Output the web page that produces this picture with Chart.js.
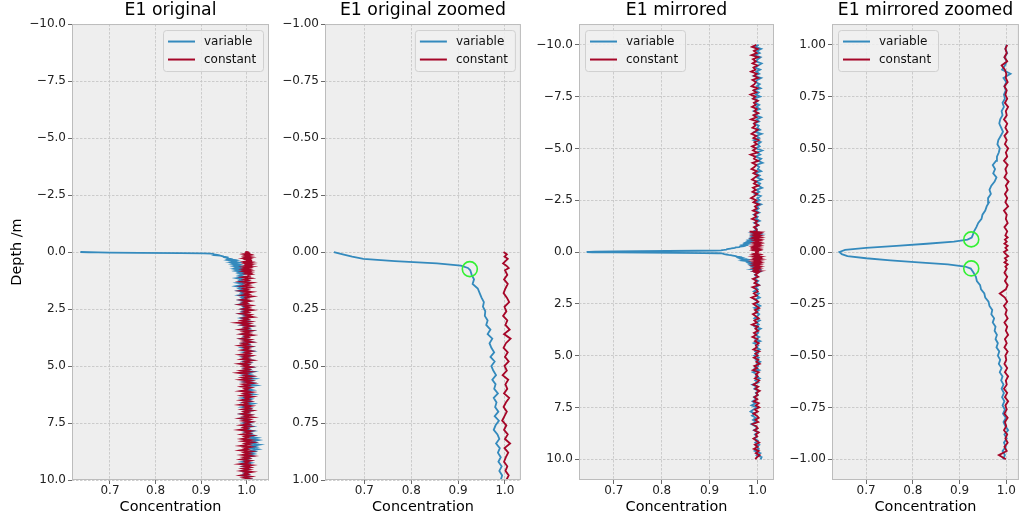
<!DOCTYPE html>
<html>
<head>
<meta charset="utf-8">
<script src="https://cdn.jsdelivr.net/npm/chart.js@4.4.0/dist/chart.umd.min.js"></script>
<style>
  body { margin: 0; background: #fff; }
  #wrap { position: relative; width: 1028px; height: 525px; overflow: hidden; }
  canvas { position: absolute; top: 0; }
</style>
</head>
<body>
<div id="wrap">
  <canvas id="c1" width="280" height="525" style="left:0px"></canvas>
  <canvas id="c2" width="250" height="525" style="left:280px"></canvas>
  <canvas id="c3" width="250" height="525" style="left:530px"></canvas>
  <canvas id="c4" width="248" height="525" style="left:780px"></canvas>
</div>
<script>
// depth profiles (depth in m, concentration unitless)
const origDepth = [
  0, 0.01, 0.02, 0.03, 0.04, 0.05, 0.06, 0.07, 0.08, 0.1,
  0.12, 0.14, 0.16, 0.18, 0.2, 0.22, 0.24, 0.26, 0.28, 0.3,
  0.32, 0.34, 0.36, 0.38, 0.4, 0.42, 0.44, 0.46, 0.48, 0.5,
  0.52, 0.54, 0.56, 0.58, 0.6, 0.62, 0.64, 0.66, 0.68, 0.7,
  0.72, 0.74, 0.76, 0.78, 0.8, 0.82, 0.84, 0.86, 0.88, 0.9,
  0.92, 0.94, 0.96, 0.98, 1.0,
  1.05, 1.1, 1.15, 1.2, 1.25, 1.3, 1.35, 1.4, 1.45, 1.5,
  1.55, 1.6, 1.65, 1.7, 1.75, 1.8, 1.85, 1.9, 1.95, 2,
  2.05, 2.1, 2.15, 2.2, 2.25, 2.3, 2.35, 2.4, 2.45, 2.5,
  2.55, 2.6, 2.65, 2.7, 2.75, 2.8, 2.85, 2.9, 2.95, 3,
  3.05, 3.1, 3.15, 3.2, 3.25, 3.3, 3.35, 3.4, 3.45, 3.5,
  3.55, 3.6, 3.65, 3.7, 3.75, 3.8, 3.85, 3.9, 3.95, 4,
  4.05, 4.1, 4.15, 4.2, 4.25, 4.3, 4.35, 4.4, 4.45, 4.5,
  4.55, 4.6, 4.65, 4.7, 4.75, 4.8, 4.85, 4.9, 4.95, 5,
  5.05, 5.1, 5.15, 5.2, 5.25, 5.3, 5.35, 5.4, 5.45, 5.5,
  5.55, 5.6, 5.65, 5.7, 5.75, 5.8, 5.85, 5.9, 5.95, 6,
  6.05, 6.1, 6.15, 6.2, 6.25, 6.3, 6.35, 6.4, 6.45, 6.5,
  6.55, 6.6, 6.65, 6.7, 6.75, 6.8, 6.85, 6.9, 6.95, 7,
  7.05, 7.1, 7.15, 7.2, 7.25, 7.3, 7.35, 7.4, 7.45, 7.5,
  7.55, 7.6, 7.65, 7.7, 7.75, 7.8, 7.85, 7.9, 7.95, 8,
  8.05, 8.1, 8.15, 8.2, 8.25, 8.3, 8.35, 8.4, 8.45, 8.5,
  8.55, 8.6, 8.65, 8.7, 8.75, 8.8, 8.85, 8.9, 8.95, 9,
  9.05, 9.1, 9.15, 9.2, 9.25, 9.3, 9.35, 9.4, 9.45, 9.5,
  9.55, 9.6, 9.65, 9.7, 9.75, 9.8, 9.85, 9.9, 9.95, 10
];
const origVariable = [
  0.635, 0.654, 0.674, 0.698, 0.765, 0.855, 0.906, 0.921, 0.926, 0.929,
  0.934, 0.931, 0.942, 0.946, 0.950, 0.955, 0.953, 0.958, 0.957, 0.963,
  0.960, 0.969, 0.963, 0.973, 0.967, 0.971, 0.977, 0.969, 0.978, 0.971,
  0.975, 0.981, 0.973, 0.980, 0.977, 0.985, 0.976, 0.982, 0.979, 0.986,
  0.978, 0.987, 0.980, 0.976, 0.984, 0.988, 0.981, 0.989, 0.985, 0.991,
  0.986, 0.993, 0.988, 0.994, 0.991,
  0.983, 0.994, 0.978, 0.990, 0.985, 0.997, 0.980, 0.992, 0.987, 0.976,
  0.991, 0.984, 0.996, 0.982, 0.993, 0.988, 0.998, 0.983, 0.995, 0.989,
  0.997, 0.986, 1.002, 0.991, 0.999, 0.985, 1.004, 0.993, 0.998, 0.990,
  1.005, 0.992, 1.001, 0.987, 1.003, 0.995, 1.006, 0.989, 1.000, 0.994,
  1.007, 0.993, 1.002, 0.990, 1.009, 0.996, 1.004, 0.991, 1.011, 0.998,
  1.003, 0.992, 1.008, 0.995, 1.001, 0.989, 1.006, 0.997, 1.010, 0.993,
  1.004, 0.996, 1.009, 0.991, 1.002, 0.998, 1.012, 0.994, 1.005, 0.999,
  1.008, 0.992, 1.003, 0.997, 1.010, 0.995, 1.006, 0.990, 1.004, 0.999,
  1.011, 0.996, 1.005, 0.993, 1.014, 1.000, 1.008, 0.994, 1.012, 1.002,
  1.017, 0.998, 1.009, 0.995, 1.013, 1.003, 1.019, 0.997, 1.007, 1.001,
  1.012, 0.994, 1.008, 1.000, 1.015, 0.996, 1.006, 0.992, 1.010, 1.003,
  1.009, 0.995, 1.013, 0.999, 1.004, 0.991, 1.008, 1.001, 1.011, 0.996,
  1.003, 0.990, 1.007, 0.996, 1.001, 0.988, 1.005, 0.998, 1.009, 0.994,
  1.006, 0.999, 1.012, 0.995, 1.004, 1.001, 1.014, 0.998, 1.010, 1.005,
  1.016, 1.004, 1.022, 1.009, 1.025, 1.012, 1.019, 1.006, 1.027, 1.013,
  1.021, 1.008, 1.024, 1.011, 1.018, 1.005, 1.015, 1.002, 1.012, 1.000,
  1.006, 0.994, 1.003, 0.991, 1.008, 0.997, 1.004, 0.993, 1.007, 0.999,
  1.002, 0.992, 1.006, 0.996, 1.003, 0.990, 1.005, 0.998, 1.008, 1.001
];
const origConstant = [
  0.997, 1.004, 0.999, 1.006, 1.001, 0.996, 1.003, 1.008, 1.000, 1.005,
  0.998, 1.006, 1.001, 0.997, 1.004, 1.009, 0.999, 1.003, 0.996, 1.005,
  1.001, 1.010, 0.998, 1.012, 1.002, 0.997, 1.006, 1.000, 1.008, 0.999,
  1.004, 0.995, 1.007, 1.001, 1.005, 0.998, 1.009, 1.002, 0.997, 1.004,
  0.999, 0.994, 1.003, 0.998, 1.006, 1.000, 1.011, 0.999, 1.007, 1.002,
  0.998, 1.005, 1.001, 1.008, 1.003,
  1.006, 0.992, 1.009, 0.995, 1.003, 0.988, 1.011, 0.997, 1.005, 0.990,
  1.008, 0.994, 1.002, 0.987, 1.010, 0.996, 1.004, 0.991, 1.012, 0.998,
  1.003, 0.989, 1.007, 0.993, 1.000, 0.986, 1.009, 0.997, 1.005, 0.992,
  1.011, 0.995, 1.003, 0.988, 1.008, 0.999, 1.013, 0.993, 1.002, 0.990,
  1.006, 0.981, 1.004, 0.992, 1.010, 0.996, 1.002, 0.987, 1.009, 0.994,
  1.005, 0.990, 1.012, 0.997, 1.003, 0.989, 1.007, 0.995, 1.011, 0.992,
  1.001, 0.986, 1.008, 0.996, 1.004, 0.991, 1.010, 0.998, 1.006, 0.988,
  1.009, 0.994, 1.003, 0.990, 1.012, 0.997, 1.005, 0.985, 1.002, 0.993,
  1.010, 0.996, 1.004, 0.989, 1.007, 0.983, 1.001, 0.995, 1.011, 0.992,
  1.006, 0.988, 1.009, 0.997, 1.013, 0.993, 1.003, 0.990, 1.008, 0.996,
  1.002, 0.987, 1.010, 0.995, 1.005, 0.991, 1.012, 0.998, 1.004, 0.989,
  1.007, 0.994, 1.001, 0.986, 1.009, 0.997, 1.006, 0.992, 1.011, 0.995,
  1.003, 0.990, 1.008, 0.996, 1.012, 0.988, 1.005, 0.993, 1.010, 0.997,
  1.004, 0.989, 1.007, 0.994, 1.001, 0.985, 1.009, 0.998, 1.006, 0.991,
  1.011, 0.996, 1.003, 0.990, 1.008, 0.993, 1.013, 0.997, 1.005, 0.988,
  1.009, 0.995, 1.002, 0.987, 1.010, 0.996, 1.006, 0.991, 1.012, 0.994,
  1.004, 0.989, 1.008, 0.997, 1.003, 0.986, 1.010, 0.995, 1.007, 0.992,
  1.005, 0.990, 1.011, 0.996, 1.002, 0.988, 1.008, 0.994, 1.006, 0.997
];

const mirrorDepth = [
  -10, -9.9, -9.8, -9.7, -9.6, -9.5, -9.4, -9.3, -9.2, -9.1,
  -9, -8.9, -8.8, -8.7, -8.6, -8.5, -8.4, -8.3, -8.2, -8.1,
  -8, -7.9, -7.8, -7.7, -7.6, -7.5, -7.4, -7.3, -7.2, -7.1,
  -7, -6.9, -6.8, -6.7, -6.6, -6.5, -6.4, -6.3, -6.2, -6.1,
  -6, -5.9, -5.8, -5.7, -5.6, -5.5, -5.4, -5.3, -5.2, -5.1,
  -5, -4.9, -4.8, -4.7, -4.6, -4.5, -4.4, -4.3, -4.2, -4.1,
  -4, -3.9, -3.8, -3.7, -3.6, -3.5, -3.4, -3.3, -3.2, -3.1,
  -3, -2.9, -2.8, -2.7, -2.6, -2.5, -2.4, -2.3, -2.2, -2.1,
  -2, -1.9, -1.8, -1.7, -1.6, -1.5, -1.4, -1.3, -1.2, -1.1,
  -1, -0.98, -0.96, -0.94, -0.92, -0.9, -0.88, -0.86, -0.84, -0.82,
  -0.8, -0.78, -0.76, -0.74, -0.72, -0.7, -0.68, -0.66, -0.64, -0.62,
  -0.6, -0.58, -0.56, -0.54, -0.52, -0.5, -0.48, -0.46, -0.44, -0.42,
  -0.4, -0.38, -0.36, -0.34, -0.32, -0.3, -0.28, -0.26, -0.24, -0.22,
  -0.2, -0.18, -0.16, -0.14, -0.12, -0.1, -0.08,
  -0.07, -0.06, -0.05, -0.04, -0.03, -0.02, -0.01, 0, 0.01, 0.02, 0.03, 0.04, 0.05, 0.06, 0.07,
  0.08, 0.1, 0.12, 0.14, 0.16, 0.18, 0.2, 0.22, 0.24, 0.26,
  0.28, 0.3, 0.32, 0.34, 0.36, 0.38, 0.4, 0.42, 0.44, 0.46,
  0.48, 0.5, 0.52, 0.54, 0.56, 0.58, 0.6, 0.62, 0.64, 0.66,
  0.68, 0.7, 0.72, 0.74, 0.76, 0.78, 0.8, 0.82, 0.84, 0.86,
  0.88, 0.9, 0.92, 0.94, 0.96, 0.98, 1,
  1.1, 1.2, 1.3, 1.4, 1.5, 1.6, 1.7, 1.8, 1.9, 2,
  2.1, 2.2, 2.3, 2.4, 2.5, 2.6, 2.7, 2.8, 2.9, 3,
  3.1, 3.2, 3.3, 3.4, 3.5, 3.6, 3.7, 3.8, 3.9, 4,
  4.1, 4.2, 4.3, 4.4, 4.5, 4.6, 4.7, 4.8, 4.9, 5,
  5.1, 5.2, 5.3, 5.4, 5.5, 5.6, 5.7, 5.8, 5.9, 6,
  6.1, 6.2, 6.3, 6.4, 6.5, 6.6, 6.7, 6.8, 6.9, 7,
  7.1, 7.2, 7.3, 7.4, 7.5, 7.6, 7.7, 7.8, 7.9, 8,
  8.1, 8.2, 8.3, 8.4, 8.5, 8.6, 8.7, 8.8, 8.9, 9,
  9.1, 9.2, 9.3, 9.4, 9.5, 9.6, 9.7, 9.8, 9.9, 10
];
const mirrorVariable = [
  1.003, 0.996, 1.008, 0.999, 1.005, 0.994, 1.007, 1.001, 0.997, 1.009,
  1.002, 0.995, 1.006, 0.998, 1.004, 0.993, 1.008, 1.000, 0.996, 1.005,
  0.999, 1.007, 0.994, 1.003, 0.997, 1.006, 0.992, 1.001, 0.995, 1.004,
  0.998, 1.005, 0.993, 1.002, 0.996, 1.008, 0.999, 1.004, 0.994, 1.003,
  1.000, 1.006, 0.995, 1.009, 0.998, 1.004, 0.993, 1.007, 1.001, 1.005,
  0.997, 1.010, 0.999, 1.006, 0.996, 1.008, 1.002, 1.011, 0.998, 1.004,
  1.001, 1.008, 0.995, 1.005, 0.999, 1.009, 0.997, 1.006, 1.002, 1.010,
  0.998, 1.004, 0.995, 1.007, 1.000, 1.005, 0.996, 1.008, 0.999, 1.003,
  0.996, 1.004, 0.993, 1.001, 0.997, 1.005, 0.994, 1.002, 0.996, 0.999,
  0.993, 0.997, 0.992, 0.999, 0.995, 1.001, 0.996, 1.004, 0.998, 0.994,
  0.999, 0.993, 0.997, 0.992, 0.996, 0.991, 0.995, 0.990, 0.994, 0.989,
  0.992, 0.986, 0.990, 0.984, 0.987, 0.982, 0.985, 0.979, 0.982, 0.977,
  0.980, 0.975, 0.977, 0.971, 0.974, 0.968, 0.970, 0.964, 0.962, 0.955,
  0.953, 0.946, 0.944, 0.937, 0.935, 0.930, 0.924,
  0.912, 0.875, 0.812, 0.752, 0.700, 0.660, 0.648, 0.643, 0.655, 0.700, 0.765, 0.830, 0.888, 0.917, 0.926,
  0.928, 0.931, 0.936, 0.940, 0.947, 0.949, 0.955, 0.958, 0.963, 0.961,
  0.967, 0.964, 0.968, 0.975, 0.979, 0.972, 0.976, 0.971, 0.978, 0.980,
  0.984, 0.986, 0.981, 0.983, 0.988, 0.993, 0.989, 0.985, 0.987, 0.992,
  0.990, 0.995, 0.992, 0.997, 0.995, 0.999, 0.996, 1.000, 0.994, 1.009,
  0.991, 0.997, 1.001, 0.996, 1.002, 0.998, 1.001,
  0.995, 0.999, 0.994, 1.002, 0.997, 1.004, 0.996, 1.001, 0.993, 1.003,
  0.998, 1.005, 0.995, 1.002, 0.999, 1.006, 0.994, 1.003, 0.997, 1.004,
  1.000, 0.994, 1.005, 0.998, 1.003, 0.995, 1.007, 0.999, 1.002, 0.996,
  1.004, 0.997, 1.006, 0.993, 1.002, 0.998, 1.005, 0.996, 1.001, 0.994,
  1.003, 0.997, 1.006, 0.999, 1.002, 0.995, 1.004, 0.991, 1.000, 0.997,
  1.005, 0.996, 1.002, 0.990, 0.999, 0.994, 1.003, 0.997, 1.001, 0.993,
  0.998, 0.990, 0.996, 0.988, 0.999, 0.992, 0.986, 0.995, 0.989, 0.997,
  0.991, 0.998, 0.988, 0.996, 1.000, 0.993, 1.002, 0.995, 0.999, 0.994,
  1.001, 0.996, 1.004, 0.998, 1.003, 0.995, 1.006, 0.999, 1.009, 1.007
];
const mirrorConstant = [
  0.998, 0.989, 1.001, 0.993, 0.999, 0.988, 1.002, 0.991, 0.997, 0.990,
  1.000, 0.992, 0.996, 0.987, 0.999, 0.993, 1.002, 0.990, 0.997, 0.994,
  0.988, 1.000, 0.992, 0.998, 0.986, 0.996, 0.991, 1.001, 0.993, 0.997,
  0.989, 0.999, 0.994, 1.002, 0.992, 0.998, 0.987, 1.000, 0.993, 0.996,
  0.990, 1.001, 0.995, 0.988, 0.998, 0.992, 1.003, 0.994, 0.999, 0.989,
  0.997, 0.991, 1.000, 0.986, 0.996, 0.993, 1.002, 0.990, 0.998, 0.994,
  0.988, 0.999, 0.992, 1.001, 0.995, 0.989, 0.998, 0.993, 1.002, 0.991,
  0.997, 0.990, 1.000, 0.994, 0.987, 0.998, 0.992, 1.003, 0.995, 0.999,
  0.991, 1.001, 0.994, 0.998, 0.989, 1.000, 0.995, 1.002, 0.993, 0.998,
  0.999, 0.984, 1.001, 0.996, 1.003, 0.998, 1.002, 0.995, 1.000, 0.997,
  1.003, 0.996, 1.001, 0.998, 1.004, 0.997, 1.002, 0.995, 1.001, 0.999,
  1.004, 0.997, 1.002, 0.996, 1.000, 0.998, 1.003, 0.996, 1.001, 0.997,
  1.004, 0.999, 1.002, 0.996, 1.003, 0.998, 1.001, 0.995, 1.002, 0.997,
  0.986, 0.999, 1.003, 0.997, 1.002, 0.996, 1.001,
  0.998, 1.003, 0.996, 1.001, 0.997, 1.004, 0.999, 0.995, 1.002, 0.998, 1.003, 0.996, 1.001, 0.997, 1.003,
  0.998, 1.002, 0.996, 1.003, 0.999, 1.001, 0.995, 1.004, 0.998, 1.002,
  0.997, 1.003, 0.999, 1.005, 0.996, 1.001, 0.998, 1.003, 0.995, 1.002,
  0.999, 1.004, 0.997, 1.001, 0.996, 1.003, 0.998, 1.002, 0.995, 1.001,
  0.999, 1.004, 0.997, 1.002, 0.998, 1.001, 0.996, 1.003, 0.999, 1.000,
  0.997, 0.990, 1.002, 0.996, 1.001, 0.998, 1.002,
  0.996, 1.002, 0.991, 0.999, 0.994, 1.003, 0.990, 0.998, 1.001, 0.993,
  0.999, 0.988, 0.997, 1.002, 0.992, 0.998, 1.004, 0.995, 1.000, 0.991,
  0.997, 1.003, 0.994, 0.999, 0.989, 1.001, 0.996, 1.002, 0.993, 0.998,
  0.990, 1.000, 0.995, 1.003, 0.997, 0.999, 0.992, 1.004, 0.996, 1.001,
  0.993, 1.002, 0.998, 1.005, 0.994, 1.000, 0.991, 1.003, 0.997, 1.001,
  0.995, 1.004, 0.999, 0.992, 1.002, 0.996, 1.005, 0.998, 1.001, 0.994,
  1.000, 0.993, 1.003, 0.997, 1.004, 0.995, 1.001, 0.992, 0.999, 1.003,
  0.996, 1.002, 0.990, 0.998, 1.001, 0.994, 1.003, 0.997, 1.000, 0.992,
  0.998, 1.004, 0.995, 1.001, 0.993, 1.003, 0.997, 1.005, 0.999, 0.996
];

// green rings marking where the steep part ends
const zoomMarkDepth = [0.075];
const zoomMarkConc = [0.925];
const mirrorMarkDepth = [0.061, -0.079];
const mirrorMarkConc = [0.925, 0.925];

// tick positions
const concTicks = [0.7, 0.8, 0.9, 1.0];
const deepTicks = [-10, -7.5, -5, -2.5, 0, 2.5, 5, 7.5, 10];
const shallowTicks = [-1, -0.75, -0.5, -0.25, 0, 0.25, 0.5, 0.75, 1];

const BLUE = '#348ABD';
const RED = '#A60628';
const GRID = '#c2c2c2';

Chart.defaults.font.family = "'DejaVu Sans', sans-serif";
Chart.defaults.color = '#222';

// the zoomed mirrored panel only holds the top metre of the profile
function pairs(depth, conc, limit) {
  return depth
    .map((d, i) => ({ x: conc[i], y: d }))
    .filter(pt => limit === undefined || Math.abs(pt.y) <= limit);
}

function fmt(dec) {
  return v => Number(v).toFixed(dec).replace('-', '\u2212');
}

// axes background, frame and the legend inside the plot box
const panelDecor = {
  id: 'panelDecor',
  beforeDraw(chart) {
    const { ctx, chartArea: a } = chart;
    ctx.save();
    ctx.fillStyle = '#eeeeee';
    ctx.fillRect(a.left, a.top, a.right - a.left, a.bottom - a.top);
    ctx.restore();
  },
  afterDatasetsDraw(chart, args, opts) {
    const { ctx, chartArea: a } = chart;
    ctx.save();
    ctx.strokeStyle = '#bcbcbc';
    ctx.lineWidth = 1;
    ctx.strokeRect(a.left + 0.5, a.top + 0.5, a.right - a.left - 1, a.bottom - a.top - 1);

    const items = chart.data.datasets.filter(d => d.label);
    const w = 100, h = 41;
    const x = opts.side === 'left' ? a.left + 6 : a.right - 6 - w;
    const y = a.top + 6;
    ctx.beginPath();
    ctx.roundRect(x + 0.5, y + 0.5, w, h, 3);
    ctx.fillStyle = 'rgba(240,240,240,0.85)';
    ctx.fill();
    ctx.strokeStyle = '#d0d0d0';
    ctx.stroke();
    ctx.font = "12px 'DejaVu Sans', sans-serif";
    ctx.textBaseline = 'middle';
    items.forEach((d, i) => {
      const yy = y + 11.5 + i * 18;
      ctx.strokeStyle = d.borderColor;
      ctx.lineWidth = 2;
      ctx.beginPath();
      ctx.moveTo(x + 5, yy);
      ctx.lineTo(x + 32, yy);
      ctx.stroke();
      ctx.fillStyle = '#111';
      ctx.fillText(d.label, x + 41, yy);
    });
    ctx.restore();
  }
};

function makePanel(id, p) {
  const lineBase = { showLine: true, pointRadius: 0, pointHoverRadius: 0, borderWidth: 1.8, tension: 0, fill: false };
  const gridOpts = { color: GRID, lineWidth: 0.8, tickLength: 4, tickColor: '#444', tickWidth: 0.8 };
  return new Chart(document.getElementById(id), {
    type: 'scatter',
    data: {
      datasets: [
        { ...lineBase, label: 'variable', data: pairs(p.depth, p.variable, p.limit), borderColor: BLUE, backgroundColor: BLUE, order: 3 },
        { ...lineBase, label: 'constant', data: pairs(p.depth, p.constant, p.limit), borderColor: RED, backgroundColor: RED, order: 2 },
        {
          data: pairs(p.markDepth, p.markConc), showLine: false, pointRadius: 7.5,
          pointBorderWidth: 1.6, pointBorderColor: '#33f033', pointBackgroundColor: 'rgba(0,0,0,0)', order: 1
        }
      ]
    },
    options: {
      responsive: false,
      animation: false,
      devicePixelRatio: 1,
      events: [],
      layout: { padding: { left: 0, right: p.padRight, top: 0, bottom: 0 } },
      plugins: {
        legend: { display: false },
        tooltip: { enabled: false },
        title: {
          display: true, text: p.title, fullSize: false, color: '#000',
          font: { size: 17.28, weight: 'normal' }, padding: { top: 0, bottom: 3.3 }
        },
        panelDecor: { side: p.legendSide }
      },
      scales: {
        x: {
          type: 'linear', min: p.xMin, max: p.xMax,
          afterFit: s => { s.height = 45; },
          afterBuildTicks: s => { s.ticks = concTicks.map(v => ({ value: v })); },
          ticks: { callback: fmt(1), font: { size: 12 }, color: '#222', padding: 0, maxRotation: 0 },
          grid: gridOpts,
          border: { display: false, dash: [2.5, 1.5] },
          title: {
            display: true, text: 'Concentration', color: '#000',
            font: { size: 14.4 }, padding: { top: 0, bottom: 8.7 }
          }
        },
        y: {
          type: 'linear', min: p.yMin, max: p.yMax, reverse: p.reverse,
          afterFit: s => { s.width = p.yWidth; },
          afterBuildTicks: s => { s.ticks = p.yTicks.map(v => ({ value: v })); },
          ticks: { callback: fmt(p.yDec), font: { size: 12 }, color: '#222', padding: 2 },
          grid: gridOpts,
          border: { display: false, dash: [2.5, 1.5] },
          title: {
            display: !!p.yTitle, text: p.yTitle || '', color: '#000',
            font: { size: 14.4 }, padding: { top: 8.4, bottom: 0 }
          }
        }
      }
    },
    plugins: [panelDecor]
  });
}

makePanel('c1', {
  title: 'E1 original', depth: origDepth, variable: origVariable, constant: origConstant,
  markDepth: [], markConc: [],
  xMin: 0.6166, xMax: 1.049, yMin: -10, yMax: 10, reverse: true, yTicks: deepTicks, yDec: 1,
  yWidth: 72, padRight: 11, legendSide: 'right', yTitle: 'Depth /m'
});
makePanel('c2', {
  title: 'E1 original zoomed', depth: origDepth, variable: origVariable, constant: origConstant,
  markDepth: zoomMarkDepth, markConc: zoomMarkConc,
  xMin: 0.616, xMax: 1.034, yMin: -1, yMax: 1, reverse: true, yTicks: shallowTicks, yDec: 2,
  yWidth: 45, padRight: 7, legendSide: 'right'
});
makePanel('c3', {
  title: 'E1 mirrored', depth: mirrorDepth, variable: mirrorVariable, constant: mirrorConstant,
  markDepth: [], markConc: [],
  xMin: 0.627, xMax: 1.035, yMin: -11, yMax: 11, reverse: true, yTicks: deepTicks, yDec: 1,
  yWidth: 49, padRight: 6, legendSide: 'left'
});
makePanel('c4', {
  title: 'E1 mirrored zoomed', depth: mirrorDepth, variable: mirrorVariable, constant: mirrorConstant,
  markDepth: mirrorMarkDepth, markConc: mirrorMarkConc, limit: 1,
  xMin: 0.627, xMax: 1.027, yMin: -1.1, yMax: 1.1, reverse: false, yTicks: shallowTicks, yDec: 2,
  yWidth: 52, padRight: 0, legendSide: 'left'
});
</script>
</body>
</html>
